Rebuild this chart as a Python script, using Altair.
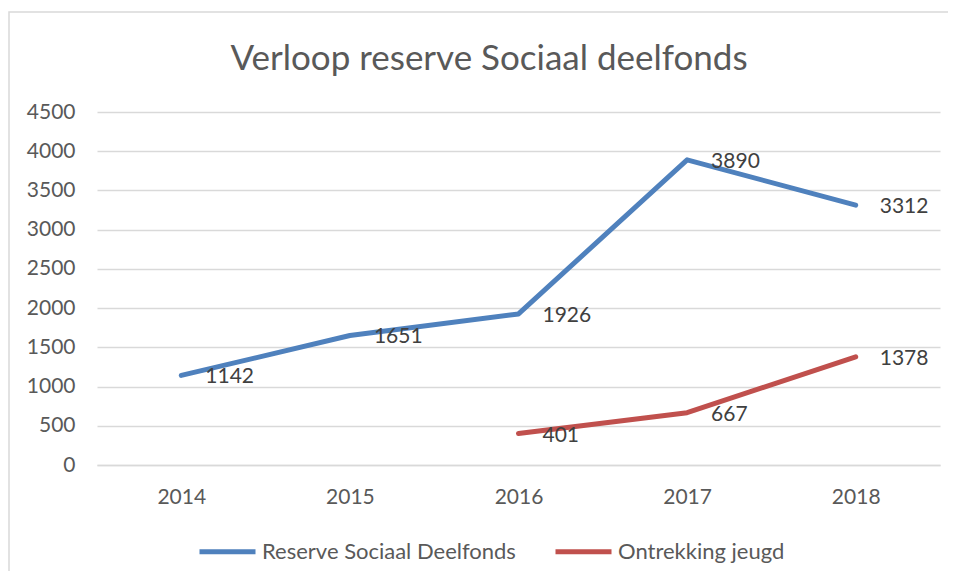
import altair as alt
import pandas as pd

years = ["2014", "2015", "2016", "2017", "2018"]
reserve = [1142, 1651, 1926, 3890, 3312]
ontrek_years = ["2016", "2017", "2018"]
ontrek = [401, 667, 1378]
series_names = ["Reserve Sociaal Deelfonds", "Ontrekking jeugd"]
colors = ["#4F81BD", "#C0504D"]
y_ticks = [0, 500, 1000, 1500, 2000, 2500, 3000, 3500, 4000, 4500]
title_text = "Verloop reserve Sociaal deelfonds"

rows = [{"jaar": y, "waarde": v, "reeks": series_names[0]} for y, v in zip(years, reserve)]
rows += [{"jaar": y, "waarde": v, "reeks": series_names[1]} for y, v in zip(ontrek_years, ontrek)]
df = pd.DataFrame(rows)

FONT = "Lato"
W, H = 843, 353

x_enc = alt.X("jaar:O", sort=years, scale=alt.Scale(type="point", padding=0.5, domain=years),
              axis=alt.Axis(title=None, labelAngle=0, ticks=False, grid=False,
                            domainColor="#d9d9d9", domainWidth=1.5,
                            labelFontSize=21, labelColor="#595959", labelPadding=21))
y_enc = alt.Y("waarde:Q", scale=alt.Scale(domain=[0, 4500], nice=False),
              axis=alt.Axis(title=None, values=y_ticks, format="d", domain=False, ticks=False,
                            labelOverlap=False,
                            gridColor="#d9d9d9", gridWidth=1.5,
                            labelFontSize=21, labelColor="#595959", labelPadding=22))
color_enc = alt.Color("reeks:N", scale=alt.Scale(domain=series_names, range=colors),
                      legend=alt.Legend(title=None, orient="none", direction="horizontal",
                                        legendX=100, legendY=409,
                                        symbolType="stroke", symbolSize=3136,
                                        symbolStrokeWidth=5, labelFontSize=22,
                                        labelColor="#595959", labelOffset=4, labelLimit=0,
                                        columnPadding=29, padding=0))

border = alt.Chart(pd.DataFrame({"b": [0]})).mark_rect(
    fill=None, stroke="#d9d9d9", strokeWidth=1.5
).encode(x=alt.value(-88), x2=alt.value(W + 40), y=alt.value(-100), y2=alt.value(H + 300))

title = alt.Chart(pd.DataFrame({"t": [title_text]})).mark_text(
    align="center", baseline="alphabetic", fontSize=35, font=FONT, color="#595959"
).encode(text="t:N", x=alt.value(392), y=alt.value(-42))

lines = alt.Chart(df).mark_line(strokeWidth=5, strokeCap="round", strokeJoin="round").encode(
    x=x_enc, y=y_enc, color=color_enc)

labels = alt.Chart(df).mark_text(align="left", baseline="middle", dx=24, dy=2,
                                 fontSize=21, color="#404040", font=FONT).encode(
    x=x_enc, y=y_enc, text="waarde:Q")

chart = alt.layer(border, title, lines, labels).properties(
    width=W, height=H,
    autosize=alt.AutoSizeParams(type="none"),
    padding={"left": 89, "top": 104, "right": 8, "bottom": 106},
).configure(font=FONT).configure_view(stroke=None).configure_axis(labelFont=FONT).configure_legend(labelFont=FONT)

chart.save("out.html", embed_options={"renderer": "svg", "actions": False})
